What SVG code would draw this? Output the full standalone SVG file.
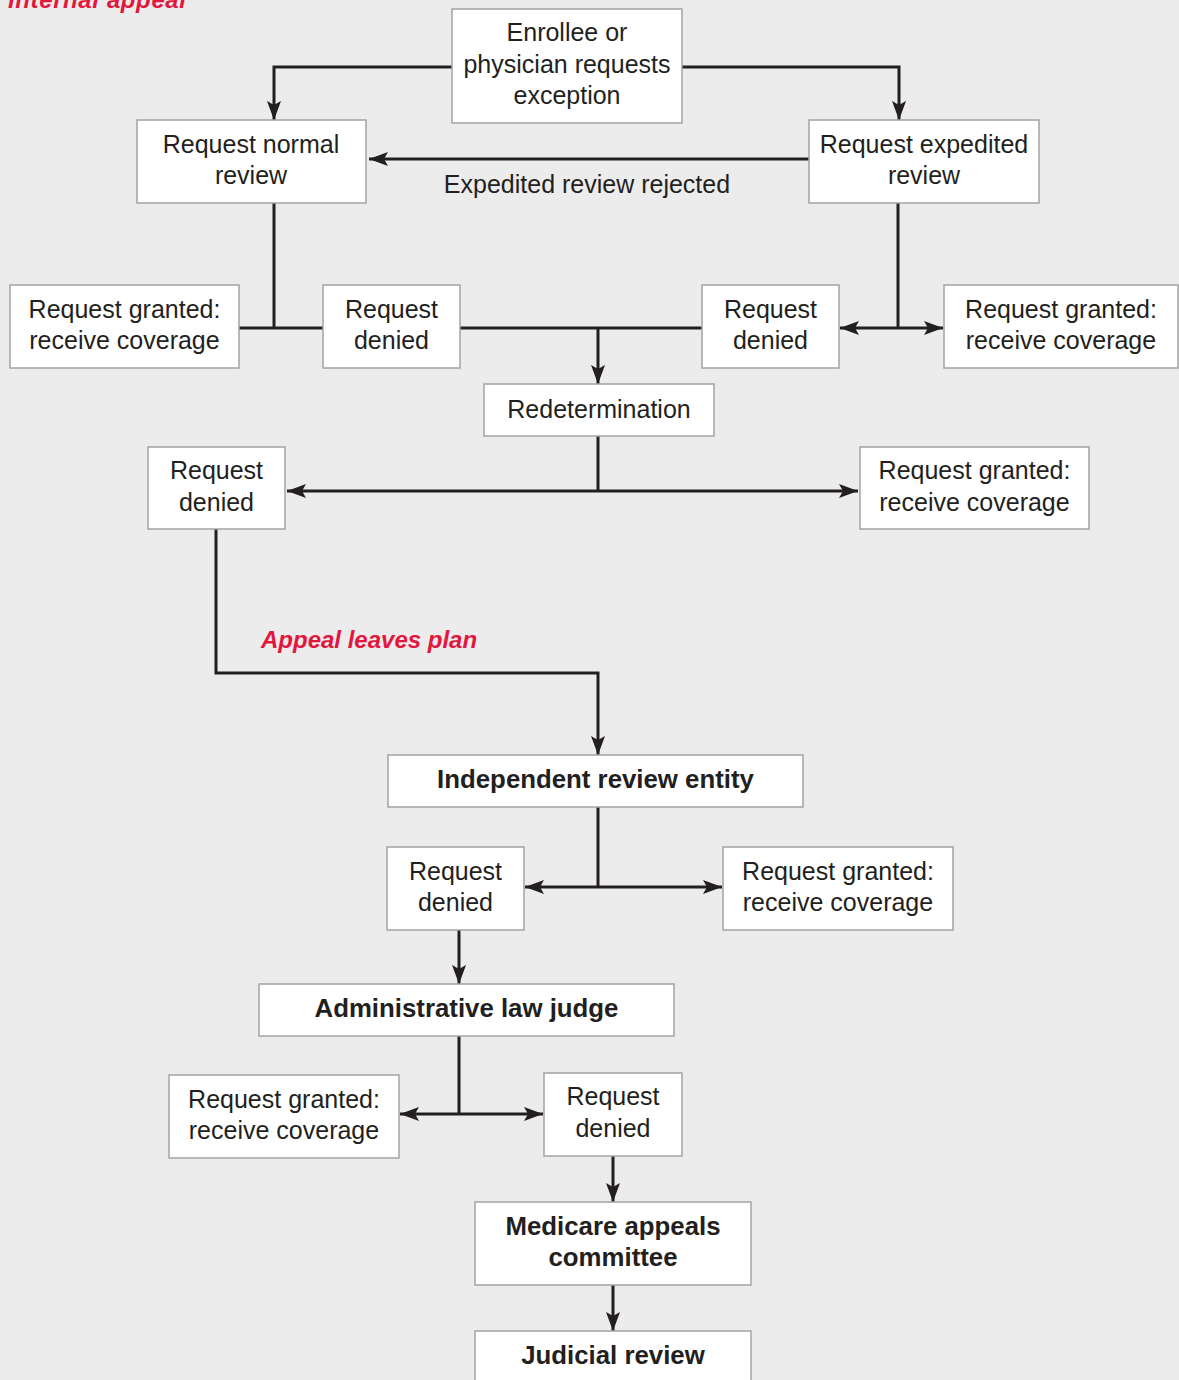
<svg xmlns="http://www.w3.org/2000/svg" width="1179" height="1380" viewBox="0 0 1179 1380">
<style>
.bg{fill:#ececec}
.box{fill:#ffffff;stroke:#a3a3a3;stroke-width:1.5}
.t{font-family:"Liberation Sans",Arial,sans-serif;font-size:25px;fill:#231f20;text-anchor:middle}
.b{font-weight:bold;font-size:25.8px}
.red{font-family:"Liberation Sans",Arial,sans-serif;font-size:24px;font-weight:bold;font-style:italic;fill:#e3173e}
.ln{fill:none;stroke:#231f20;stroke-width:3}
.arr{marker-end:url(#ah)}
.arr2{marker-start:url(#ahs);marker-end:url(#ah)}
</style>
<defs>
<marker id="ah" viewBox="-19 -8 19 16" refX="0" refY="0" markerWidth="19" markerHeight="16" markerUnits="userSpaceOnUse" orient="auto">
<path d="M0,0 L-19,-7 L-15,0 L-19,7 Z" fill="#231f20"/>
</marker>
<marker id="ahs" viewBox="0 -8 19 16" refX="0" refY="0" markerWidth="19" markerHeight="16" markerUnits="userSpaceOnUse" orient="auto">
<path d="M0,0 L19,-7 L15,0 L19,7 Z" fill="#231f20"/>
</marker>
</defs>
<rect class="bg" x="0" y="0" width="1179" height="1380"/>
<text class="red" x="8" y="8" textLength="178">Internal appeal</text>
<text class="red" x="261" y="648">Appeal leaves plan</text>

<g id="connectors">
<path class="ln arr" d="M452,67 H274 V120"/>
<path class="ln arr" d="M682,67 H899 V120"/>
<path class="ln arr" d="M809,159 H369"/>
<text class="t" x="587" y="193">Expedited review rejected</text>
<path class="ln" d="M274,203 V328"/>
<path class="ln" d="M239,328 H323"/>
<path class="ln" d="M460,328 H702"/>
<path class="ln arr" d="M598,328 V384"/>
<path class="ln" d="M898,203 V328"/>
<path class="ln arr2" d="M840,328 H943"/>
<path class="ln" d="M598,436 V491"/>
<path class="ln arr2" d="M287,491 H858"/>
<path class="ln arr" d="M216,529 V673 H598 V755"/>
<path class="ln" d="M598,807 V887"/>
<path class="ln arr2" d="M525,887 H722"/>
<path class="ln arr" d="M459,930 V984"/>
<path class="ln" d="M459,1036 V1114"/>
<path class="ln arr2" d="M400,1114 H543"/>
<path class="ln arr" d="M613,1156 V1202"/>
<path class="ln arr" d="M613,1285 V1331"/>
</g>

<g id="n1"><rect class="box" x="452" y="9" width="230" height="114"/>
<text class="t" x="567" y="41">Enrollee or</text><text class="t" x="567" y="73">physician requests</text><text class="t" x="567" y="104">exception</text></g>
<g id="n2"><rect class="box" x="137" y="120" width="229" height="83"/>
<text class="t" x="251" y="153">Request normal</text><text class="t" x="251" y="184">review</text></g>
<g id="n3"><rect class="box" x="809" y="120" width="230" height="83"/>
<text class="t" x="924" y="153">Request expedited</text><text class="t" x="924" y="184">review</text></g>
<g id="n4"><rect class="box" x="10" y="285" width="229" height="83"/>
<text class="t" x="124.5" y="318">Request granted:</text><text class="t" x="124.5" y="349">receive coverage</text></g>
<g id="n5"><rect class="box" x="323" y="285" width="137" height="83"/>
<text class="t" x="391.5" y="318">Request</text><text class="t" x="391.5" y="349">denied</text></g>
<g id="n6"><rect class="box" x="702" y="285" width="137" height="83"/>
<text class="t" x="770.5" y="318">Request</text><text class="t" x="770.5" y="349">denied</text></g>
<g id="n7"><rect class="box" x="944" y="285" width="234" height="83"/>
<text class="t" x="1061" y="318">Request granted:</text><text class="t" x="1061" y="349">receive coverage</text></g>
<g id="n8"><rect class="box" x="484" y="384" width="230" height="52"/>
<text class="t" x="599" y="418">Redetermination</text></g>
<g id="n9"><rect class="box" x="148" y="447" width="137" height="82"/>
<text class="t" x="216.5" y="479">Request</text><text class="t" x="216.5" y="511">denied</text></g>
<g id="n10"><rect class="box" x="860" y="447" width="229" height="82"/>
<text class="t" x="974.5" y="479">Request granted:</text><text class="t" x="974.5" y="511">receive coverage</text></g>
<g id="n11"><rect class="box" x="388" y="755" width="415" height="52"/>
<text class="t b" x="595.5" y="788">Independent review entity</text></g>
<g id="n12"><rect class="box" x="387" y="847" width="137" height="83"/>
<text class="t" x="455.5" y="880">Request</text><text class="t" x="455.5" y="911">denied</text></g>
<g id="n13"><rect class="box" x="723" y="847" width="230" height="83"/>
<text class="t" x="838" y="880">Request granted:</text><text class="t" x="838" y="911">receive coverage</text></g>
<g id="n14"><rect class="box" x="259" y="984" width="415" height="52"/>
<text class="t b" x="466.5" y="1017">Administrative law judge</text></g>
<g id="n15"><rect class="box" x="169" y="1075" width="230" height="83"/>
<text class="t" x="284" y="1108">Request granted:</text><text class="t" x="284" y="1139">receive coverage</text></g>
<g id="n16"><rect class="box" x="544" y="1073" width="138" height="83"/>
<text class="t" x="613" y="1105">Request</text><text class="t" x="613" y="1137">denied</text></g>
<g id="n17"><rect class="box" x="475" y="1202" width="276" height="83"/>
<text class="t b" x="613" y="1235">Medicare appeals</text><text class="t b" x="613" y="1266">committee</text></g>
<g id="n18"><rect class="box" x="475" y="1331" width="276" height="60"/>
<text class="t b" x="613" y="1364">Judicial review</text></g>
</svg>
